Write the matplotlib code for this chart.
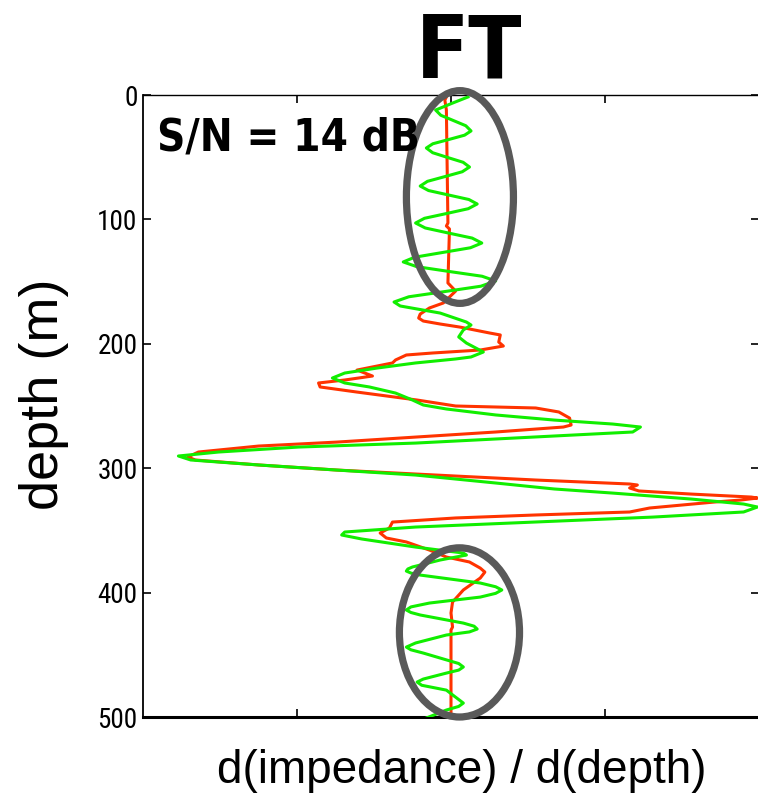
import matplotlib
matplotlib.use("Agg")
import matplotlib.pyplot as plt
from matplotlib.patches import Ellipse
from matplotlib import font_manager
from matplotlib.font_manager import FontProperties

# depth (m) and amplitude (d(impedance)/d(depth), arbitrary units)
green_depth = [1.6, 6.5, 12.1, 16.3, 20.5, 24.7, 28.9, 32.3, 35.8, 39.2, 42.6, 46.4, 50.3, 54.1,
               57.9, 61.7, 65.6, 69.4, 73.2, 76.8, 80.4, 84.0, 87.6, 91.4, 95.3, 99.1, 102.9,
               106.9, 111.0, 115.0, 119.0, 122.8, 126.6, 130.4, 134.2, 138.0, 141.9, 145.7,
               149.5, 153.7, 158.0, 162.2, 166.4,
               169.6, 175.3, 182.5, 184.9, 188.9, 194.5, 199.4, 206.6, 210.6, 212.2, 215.4,
               219.5, 223.5, 227.5, 231.5, 234.7, 239.6, 245.2, 249.2, 252.4, 257.2, 261.3,
               264.5, 266.9, 270.9, 274.9, 279.8, 283.0, 287.0, 290.2, 293.4, 297.4, 301.5,
               305.5, 311.9, 316.7, 320.0, 324.8, 328.8, 331.2, 335.2, 339.3, 343.3, 347.3,
               351.3, 353.7, 356.9, 363.4, 368.2, 369.8, 373.8, 379.4, 381.0, 382.7, 384.3,
               385.9, 392.3, 395.3, 397.9, 400.6, 403.6, 408.4, 411.5, 414.0, 416.0, 418.0,
               424.5, 427.0, 429.3, 431.6, 434.1, 440.5, 443.8, 446.0, 448.6, 457.0, 459.8,
               462.3, 464.7, 469.5, 471.9, 474.5, 478.4, 486.0, 488.8, 491.5, 494.4, 500.8]
green_amp = [0.11, 0.01, -0.10, -0.066, 0.015, 0.096, 0.13, 0.088, -0.015, -0.118, -0.16, -0.119,
             -0.02, 0.079, 0.12, 0.073, -0.04, -0.153, -0.20, -0.146, -0.015, 0.116, 0.17, 0.112,
             -0.03, -0.172, -0.23, -0.167, -0.015, 0.137, 0.20, 0.126, -0.055, -0.236, -0.31,
             -0.222, -0.01, 0.202, 0.29, 0.194, -0.04, -0.274, -0.37,
             -0.33, -0.07, 0.10, 0.13, 0.08, 0.05, 0.10, 0.21, 0.13, 0.03, -0.23,
             -0.48, -0.69, -0.77, -0.69, -0.53, -0.36, -0.25, -0.18, -0.03, 0.29, 0.67,
             1.05, 1.23, 1.18, 0.54, -0.23, -0.99, -1.51, -1.77, -1.69, -1.25, -0.74,
             -0.23, 0.29, 0.67, 1.05, 1.56, 1.90, 1.99, 1.90, 1.31, 0.54, -0.23,
             -0.69, -0.71, -0.58, -0.23, 0.08, 0.10, -0.07, -0.25, -0.28, -0.29, -0.26,
             -0.20, 0.19, 0.29, 0.33, 0.29, 0.19, -0.14, -0.26, -0.29, -0.26, -0.20,
             0.08, 0.15, 0.17, 0.12, -0.03, -0.23, -0.29, -0.26, -0.18, 0.05, 0.08,
             0.05, -0.03, -0.18, -0.22, -0.19, -0.03, 0.05, 0.08, 0.05, -0.03, -0.16]

red_depth = [1.6, 4.0, 12.1, 102.9, 105.3, 107.7, 151.1, 157.6, 167.2, 171.2, 176.1, 179.3,
             181.7, 184.1, 186.6, 191.3, 192.9, 198.6, 201.8, 205.0, 207.4, 209.0, 213.0,
             215.4, 221.1, 225.9, 229.1, 231.5, 234.7, 238.8, 245.2, 250.0, 251.6, 254.8,
             259.7, 265.3, 266.9, 270.9, 274.9, 279.0, 282.2, 287.0, 291.0, 293.4, 297.4,
             301.5, 306.3, 309.5, 312.7, 313.5, 315.9, 318.3, 320.8, 323.2, 324.0, 325.6,
             327.2, 332.0, 335.2, 337.6, 340.0, 343.3, 348.1, 352.1, 356.1, 359.3, 365.8,
             371.4, 375.4, 380.3, 383.5, 388.3, 397.9, 407.6, 416.4, 427.7, 430.1, 500.0]
red_amp = [-0.03, -0.04, -0.03, -0.02, -0.03, -0.01, -0.02, 0.03, -0.05, -0.14, -0.20, -0.21,
           -0.18, -0.07, 0.06, 0.25, 0.32, 0.31, 0.34, 0.19, -0.12, -0.29, -0.36,
           -0.38, -0.61, -0.51, -0.69, -0.86, -0.85, -0.61, -0.22, 0.03, 0.55, 0.70,
           0.77, 0.78, 0.73, 0.29, -0.22, -0.74, -1.25, -1.64, -1.71, -1.66, -1.25,
           -0.74, 0.03, 0.55, 1.16, 1.21, 1.16, 1.22, 1.56, 1.95, 1.99, 1.88,
           1.71, 1.29, 1.16, 0.55, 0.03, -0.38, -0.40, -0.46, -0.42, -0.29, -0.14,
           -0.03, 0.12, 0.19, 0.22, 0.19, 0.08, 0.01, 0.00, 0.01, 0.00, 0.00]

# highlighted regions: (centre amp, centre depth, width, height)
ellipses = [(0.058, 82, 0.695, 171), (0.055, 432, 0.78, 136)]

depth_ticks = [0, 100, 200, 300, 400, 500]
amp_ticks = [-1, 0, 1]


def find_condensed(bold, prefer=None):
    # look for an upright narrow / condensed sans face among the installed fonts
    best = None
    for f in font_manager.fontManager.ttflist:
        nm = (f.name + ' ' + str(f.stretch)).lower()
        if not any(k in nm for k in ('narrow', 'condensed')):
            continue
        if any(k in nm for k in ('semi', 'extra', 'ultra', 'mono')):
            continue
        if f.style != 'normal' or 'oblique' in f.fname.lower() or 'italic' in f.fname.lower():
            continue
        w = f.weight if isinstance(f.weight, int) else (700 if 'bold' in str(f.weight) else 400)
        if (w >= 600) != bold:
            continue
        best = f.fname
        if 'liberation' in nm or (prefer and prefer in nm):
            break
    return best


fb = find_condensed(True, prefer='dejavu')
fr = find_condensed(False)
cond_bold = FontProperties(fname=fb) if fb else FontProperties(family=['Liberation Sans', 'DejaVu Sans'], weight='bold')
cond_reg = FontProperties(fname=fr) if fr else FontProperties(family=['Liberation Sans', 'DejaVu Sans'])
plain = ['Liberation Sans', 'DejaVu Sans']

fig = plt.figure(figsize=(7.58, 8.02), dpi=100)
ax = fig.add_axes([143 / 758, 85 / 802, 616 / 758, 622 / 802])

ax.plot(red_amp, red_depth, color='#ff3300', lw=2.2, solid_joinstyle='round', zorder=2)
ax.plot(green_amp, green_depth, color='#11ee00', lw=2.2, solid_joinstyle='round', zorder=3)

for cx, cy, w, h in ellipses:
    ax.add_patch(Ellipse((cx, cy), w, h, fill=False, edgecolor='#595959', lw=5.2,
                         clip_on=False, zorder=4))

ax.set_xlim(-2, 2)
ax.set_ylim(500, 0)
ax.set_xticks(amp_ticks)
ax.set_xticklabels([])
ax.set_yticks(depth_ticks)
ax.set_yticklabels([str(t) for t in depth_ticks])
ax.tick_params(direction='in', length=6, width=1.2, top=True, right=True, pad=4)
ax.spines['top'].set_linewidth(1.0)
ax.spines['left'].set_linewidth(1.3)
ax.spines['bottom'].set_linewidth(2.2)
ax.spines['right'].set_linewidth(1.3)

ylab = fig.text(44 / 758, 1 - 394 / 802, 'depth (m)', rotation=90, ha='center', va='center',
                family=plain, fontsize=39)
xlab = fig.text(462 / 758, 1 - 771 / 802, 'd(impedance) / d(depth)', ha='center', va='center',
                family=plain, fontsize=33)
title = fig.text(469 / 758, 1 - 77 / 802, 'FT', ha='center', va='baseline',
                 fontproperties=cond_bold, fontsize=60)
snr = fig.text(157 / 758, 1 - 151 / 802, 'S/N = 14 dB', ha='left', va='baseline',
               fontproperties=cond_bold, fontsize=36)
for lab in ax.get_yticklabels():
    lab.set_fontproperties(cond_reg)
    lab.set_fontsize(19)

# size the condensed texts to the boxes they take in the reference
fig.canvas.draw()
rend = fig.canvas.get_renderer()
for txt, width_px, cap_px, k in [(title, 95, 69, 0.5), (snr, 250, 40, 0.85)]:
    wpx = txt.get_window_extent(rend).width
    s_w = txt.get_fontsize() * width_px / wpx
    s_h = cap_px / 0.72 * 72 / 100
    txt.set_fontsize(k * s_w + (1 - k) * s_h)
wpx = ax.get_yticklabels()[-1].get_window_extent(rend).width
s_w = 19 * 37 / wpx
for lab in ax.get_yticklabels():
    lab.set_fontsize(0.5 * s_w + 0.5 * 21)

fig.savefig('out.png', dpi=100)
